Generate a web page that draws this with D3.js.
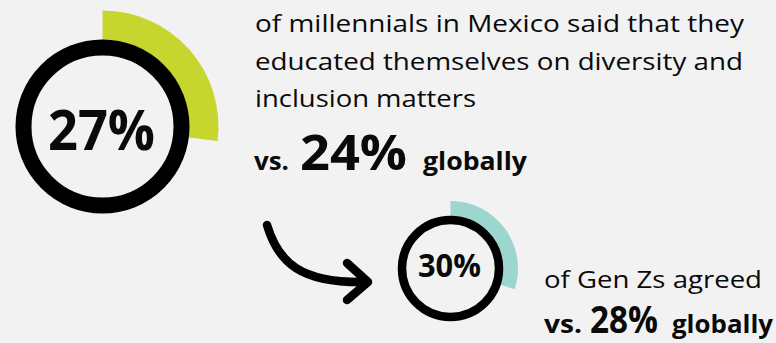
<!DOCTYPE html>
<html>
<head>
<meta charset="utf-8">
<script src="https://cdn.jsdelivr.net/npm/d3@7"></script>
<style>
  html, body { margin: 0; padding: 0; background: #f2f2f2; }
  svg { display: block; }
  text { font-family: "Open Sans", Lato, sans-serif; fill: #0a0a0a; }
</style>
</head>
<body>
<svg id="chart" width="776" height="343"></svg>
<script>
// Survey figures: share agreeing in Mexico vs. the global share
const groups = ["Millennials", "Gen Zs"];
const mexicoShare = [27, 30];
const globalShare = [24, 28];
const arcColors = ["#c6d62f", "#9dd5cf"];
const descriptionLines = [
  ["of millennials in Mexico said that they",
   "educated themselves on diversity and",
   "inclusion matters"],
  ["of Gen Zs agreed"]
];

const svg = d3.select("#chart");

// percentage -> angle around the ring (starting at 12 o'clock, clockwise)
const angle = d3.scaleLinear().domain([0, 100]).range([0, 2 * Math.PI]);

// Layout of each badge: ring centre, ring radius/thickness, arc outer radius
const badges = [
  { cx: 102.5, cy: 126.5, r: 79, stroke: 16, arcOuter: 116, pctSize: 56, pctBase: 150, pctWidth: 107 },
  { cx: 450.5, cy: 268.5, r: 48.5, stroke: 8.5, arcOuter: 67.5, pctSize: 33, pctBase: 277, pctWidth: 63 }
];

badges.forEach((b, i) => {
  const g = svg.append("g").attr("transform", `translate(${b.cx},${b.cy})`);
  const arc = d3.arc()
    .innerRadius(b.r)
    .outerRadius(b.arcOuter)
    .startAngle(0)
    .endAngle(angle(mexicoShare[i]));
  g.append("path").attr("d", arc()).attr("fill", arcColors[i]);
  g.append("circle")
    .attr("r", b.r)
    .attr("fill", "none")
    .attr("stroke", "#000")
    .attr("stroke-width", b.stroke);
  svg.append("text")
    .attr("x", b.cx - 1)
    .attr("y", b.pctBase)
    .attr("text-anchor", "middle")
    .attr("font-weight", 700)
    .attr("font-size", b.pctSize)
    .attr("textLength", b.pctWidth)
    .attr("lengthAdjust", "spacingAndGlyphs")
    .text(mexicoShare[i] + "%");
});

// Description text
const topLines = [
  { x: 255, y: 32, w: 489 },
  { x: 255, y: 70, w: 488 },
  { x: 255, y: 107, w: 221 }
];
descriptionLines[0].forEach((t, j) => {
  svg.append("text")
    .attr("x", topLines[j].x).attr("y", topLines[j].y)
    .attr("font-size", 24.5)
    .attr("textLength", topLines[j].w)
    .attr("lengthAdjust", "spacingAndGlyphs")
    .text(t);
});
svg.append("text")
  .attr("x", 544).attr("y", 288)
  .attr("font-size", 24.5)
  .attr("textLength", 218)
  .attr("lengthAdjust", "spacingAndGlyphs")
  .text(descriptionLines[1][0]);

// "vs. NN% globally" comparison rows
const compareRows = [
  { base: 170, vs: [254, 35], pct: [300, 107, 49], glob: [423, 104] },
  { base: 333, vs: [544, 38], pct: [590, 68, 38], glob: [672, 101] }
];
compareRows.forEach((r, i) => {
  svg.append("text")
    .attr("x", r.vs[0]).attr("y", r.base)
    .attr("font-weight", 700).attr("font-size", 25)
    .attr("textLength", r.vs[1]).attr("lengthAdjust", "spacingAndGlyphs")
    .text("vs.");
  svg.append("text")
    .attr("x", r.pct[0]).attr("y", r.base)
    .attr("font-weight", 700).attr("font-size", r.pct[2])
    .attr("textLength", r.pct[1]).attr("lengthAdjust", "spacingAndGlyphs")
    .text(globalShare[i] + "%");
  svg.append("text")
    .attr("x", r.glob[0]).attr("y", r.base)
    .attr("font-weight", 700).attr("font-size", 25)
    .attr("textLength", r.glob[1]).attr("lengthAdjust", "spacingAndGlyphs")
    .text("globally");
});

// Curved arrow leading from the millennial figure to the Gen Z figure
const arrow = d3.path();
arrow.moveTo(267, 225);
arrow.bezierCurveTo(278, 262, 300, 284, 368, 282);
arrow.moveTo(347, 263);
arrow.lineTo(368, 282);
arrow.lineTo(347, 300);
svg.append("path")
  .attr("d", arrow.toString())
  .attr("fill", "none")
  .attr("stroke", "#000")
  .attr("stroke-width", 8.5)
  .attr("stroke-linecap", "round")
  .attr("stroke-linejoin", "round");
</script>
</body>
</html>
